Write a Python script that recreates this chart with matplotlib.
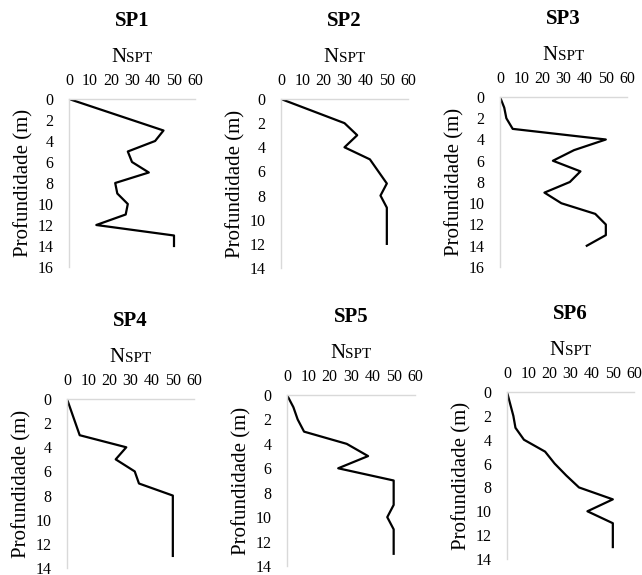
import matplotlib
matplotlib.use("Agg")
import matplotlib.pyplot as plt
from matplotlib.offsetbox import TextArea, HPacker, AnnotationBbox

plt.rcParams["font.family"] = ["Liberation Serif", "DejaVu Serif"]

# ---- data: NSPT by depth (m) for each borehole ----
sp1_depth = [0, 1, 2, 3, 4, 5, 6, 7, 8, 9, 10, 11, 12, 13, 14]
sp1_nspt = [0, 15, 30, 45, 41, 28, 30, 38, 22, 23, 28, 27, 13, 50, 50]

sp2_depth = [0, 1, 2, 3, 4, 5, 6, 7, 8, 9, 10, 11, 12]
sp2_nspt = [0, 15, 30, 36, 30, 42, 46, 50, 47, 50, 50, 50, 50]

sp3_depth = [0, 1, 2, 3, 4, 5, 6, 7, 8, 9, 10, 11, 12, 13, 14]
sp3_nspt = [0, 2, 3, 6, 50, 35, 25, 38, 33, 21, 29, 45, 50, 50, 41]

sp4_depth = [0, 1, 2, 3, 4, 5, 6, 7, 8, 9, 10, 11, 12, 13]
sp4_nspt = [0, 2, 4, 6, 28, 23, 32, 34, 50, 50, 50, 50, 50, 50]

sp5_depth = [0, 1, 2, 3, 4, 5, 6, 7, 8, 9, 10, 11, 12, 13]
sp5_nspt = [0, 3, 5, 8, 28, 38, 24, 50, 50, 50, 47, 50, 50, 50]

sp6_depth = [0, 1, 2, 3, 4, 5, 6, 7, 8, 9, 10, 11, 12, 13]
sp6_nspt = [0, 1.5, 3, 4, 8, 18, 22.5, 28, 34, 50, 38, 50, 50, 50]

titles = ["SP1", "SP2", "SP3", "SP4", "SP5", "SP6"]
depths = [sp1_depth, sp2_depth, sp3_depth, sp4_depth, sp5_depth, sp6_depth]
nspts = [sp1_nspt, sp2_nspt, sp3_nspt, sp4_nspt, sp5_nspt, sp6_nspt]
ymax = [16, 14, 16, 14, 14, 14]

W, H = 642, 575
# axes boxes in pixels: left, right, top, bottom
boxes = [
    (69, 195, 99, 267),
    (281, 408, 99, 268),
    (500, 627, 97, 267),
    (67, 194, 399, 568),
    (287, 415, 395, 566),
    (507, 634, 392, 559),
]

fig = plt.figure(figsize=(W / 100, H / 100), dpi=100)

for title, d, n, ym, (l, r, t, b) in zip(titles, depths, nspts, ymax, boxes):
    ax = fig.add_axes([l / W, 1 - b / H, (r - l) / W, (b - t) / H])
    ax.plot(n, d, color="black", lw=1.6)
    ax.set_xlim(0, 60)
    ax.set_ylim(ym, 0)
    ax.set_xticks(range(0, 61, 10))
    ax.set_yticks(range(0, ym + 1, 2))
    ax.xaxis.tick_top()
    ax.tick_params(length=0, labelsize=11.5)
    ax.tick_params(axis="x", pad=7)
    ax.tick_params(axis="y", pad=11)
    for s in ["right", "bottom"]:
        ax.spines[s].set_visible(False)
    for s in ["left", "top"]:
        ax.spines[s].set_color("#d9d9d9")
        ax.spines[s].set_linewidth(1)
    ax.set_ylabel("Profundidade (m)", fontsize=15)
    ax.yaxis.set_label_coords(-36 / (r - l), 0.5)

    ax.annotate(title, (0.5, 1.0), xycoords="axes fraction",
                xytext=(0, 56), textcoords="offset points",
                ha="center", va="center", fontsize=15, fontweight="bold")

    # NSPT axis label with small-caps style subscript
    lab = HPacker(children=[TextArea("N", textprops=dict(size=15)),
                            TextArea("SPT", textprops=dict(size=11))],
                  align="baseline", pad=0, sep=0)
    ab = AnnotationBbox(lab, (0.5, 1.0), xycoords="axes fraction",
                        xybox=(0, 30), boxcoords="offset points",
                        frameon=False, box_alignment=(0.5, 0.5))
    ax.add_artist(ab)

fig.savefig("out.png", dpi=100)
